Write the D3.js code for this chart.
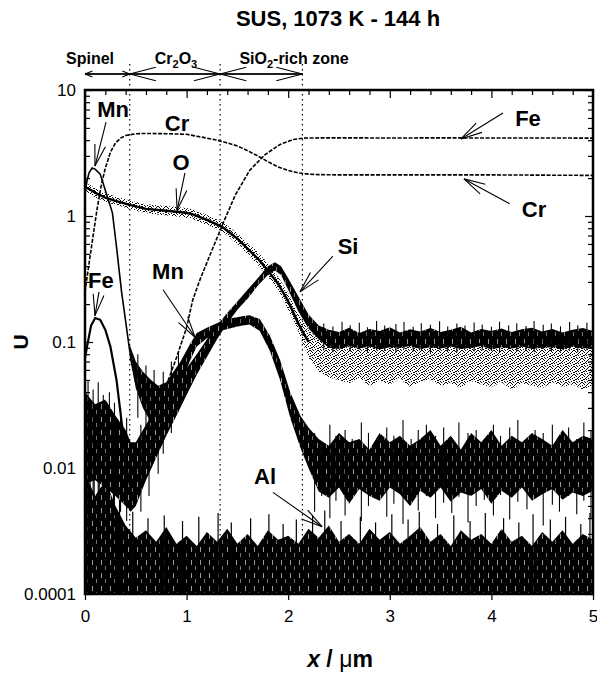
<!DOCTYPE html>
<html>
<head>
<meta charset="utf-8">
<script src="https://cdn.jsdelivr.net/npm/d3@7"></script>
<style>
  html, body { margin: 0; padding: 0; background: #fff; }
  svg { display: block; font-family: "Liberation Sans", Arial, Helvetica, sans-serif; }
</style>
</head>
<body>
<svg id="chart" width="597" height="674"></svg>
<script>
// ---------------- data ----------------
const xTickValues = [0, 1, 2, 3, 4, 5];
const xTickLabels = ["0", "1", "2", "3", "4", "5"];
const yTickValues = [10, 1, 0.1, 0.01, 0.001];
const yTickLabels = ["10", "1", "0.1", "0.01", "0.0001"];

// layer boundaries (µm)
const zoneStart = [0, 0.44, 1.33];
const zoneEnd   = [0.44, 1.33, 2.14];

// common sampling of the flat bulk region
const tailX = [2.3,2.4,2.5,2.6,2.7,2.8,2.9,3.0,3.1,3.2,3.3,3.4,3.5,3.6,3.7,3.8,3.9,4.0,4.1,4.2,4.3,4.4,4.5,4.6,4.7,4.8,4.9,5.0];

// Cr profile
const crX = [0,0.04,0.08,0.12,0.16,0.2,0.25,0.3,0.35,0.4,0.5,0.6,0.8,1.0,1.1,1.2,1.3,1.4,1.5,1.6,1.7,1.8,1.9,2.0,2.1,2.2,2.3,2.5,3,3.5,4,4.5,5];
const crV = [0.25,0.42,0.7,1.15,1.75,2.4,3.2,3.8,4.15,4.35,4.5,4.52,4.5,4.45,4.3,4.15,4.0,3.8,3.6,3.3,3.0,2.7,2.45,2.3,2.2,2.15,2.13,2.12,2.12,2.12,2.12,2.11,2.1];

// Fe profile
const feX = [0,0.02,0.06,0.1,0.15,0.2,0.25,0.31,0.37,0.42,0.45,0.5,0.6,0.7,0.8,0.9,1.0,1.06,1.13,1.23,1.36,1.48,1.62,1.77,1.92,2.05,2.15,2.3,2.6,3,3.5,4,4.5,5];
const feV = [0.075,0.092,0.135,0.155,0.15,0.125,0.092,0.05,0.02,0.009,0.0067,0.009,0.016,0.028,0.045,0.075,0.13,0.215,0.31,0.49,0.88,1.47,2.3,3.06,3.7,4.05,4.15,4.17,4.17,4.16,4.17,4.16,4.16,4.15];

// Mn: clean surface peak, then noisy band
const mnLineX = [0,0.02,0.04,0.07,0.1,0.15,0.2,0.27,0.31,0.36,0.44,0.5];
const mnLineV = [1.55,1.9,2.2,2.4,2.35,2.15,1.6,1.06,0.57,0.25,0.085,0.055];
const mnBandX = [0.44,0.5,0.57,0.65,0.72,0.8,0.87,0.94,1.03,1.1,1.2,1.33,1.45,1.55,1.62,1.72,1.82,1.92,2.02,2.12,2.2].concat(tailX);
const mnLo = [0.075,0.043,0.03,0.023,0.02,0.023,0.033,0.045,0.07,0.092,0.107,0.122,0.13,0.135,0.138,0.122,0.085,0.05,0.025,0.0145,0.01,
  0.0065,0.0058,0.007,0.0052,0.0068,0.006,0.0055,0.007,0.0062,0.005,0.0066,0.0058,0.007,0.0054,0.0064,0.006,0.0068,0.0052,0.0066,0.0058,0.007,0.0055,0.0062,0.0068,0.0056,0.0064,0.006,0.0066];
const mnHi = [0.095,0.07,0.058,0.05,0.045,0.048,0.058,0.07,0.095,0.118,0.13,0.145,0.155,0.16,0.163,0.152,0.112,0.072,0.04,0.026,0.021,
  0.017,0.015,0.019,0.016,0.017,0.014,0.019,0.016,0.018,0.015,0.017,0.02,0.015,0.018,0.014,0.019,0.016,0.02,0.015,0.018,0.016,0.019,0.017,0.015,0.02,0.016,0.018,0.017];
// Mn single-scan excursions
const mnSpikeX  = [0.52,0.6,0.68,0.77,0.85,0.92,2.26,2.33,2.41,2.47,2.56,2.63,2.72,2.79,2.88,2.97,3.04,3.13,3.21,3.28,3.36,3.45,3.53,3.61,3.68,3.77,3.85,3.93,4.02,4.09,4.18,4.26,4.35,4.43,4.51,4.6,4.67,4.76,4.84,4.91,4.98];
const mnSpikeLo = [0.025,0.018,0.014,0.013,0.019,0.028,
  0.0045,0.006,0.004,0.0055,0.0042,0.006,0.0038,0.005,0.0058,0.0041,0.0052,0.0036,0.0057,0.0046,0.006,0.004,0.0053,0.0044,0.0059,0.0037,0.005,0.0056,0.0042,0.0061,0.0039,0.0054,0.0047,0.0058,0.0035,0.0051,0.0045,0.006,0.0043,0.0055,0.004];
const mnSpikeHi = [0.08,0.065,0.06,0.058,0.07,0.085,
  0.019,0.016,0.022,0.018,0.02,0.017,0.023,0.019,0.016,0.021,0.018,0.024,0.017,0.02,0.022,0.018,0.021,0.016,0.023,0.019,0.02,0.017,0.022,0.018,0.021,0.024,0.017,0.02,0.019,0.022,0.018,0.021,0.017,0.023,0.02];

// Si noisy band
const siX = [0,0.1,0.2,0.3,0.4,0.45,0.5,0.6,0.7,0.8,0.9,1.0,1.1,1.2,1.3,1.4,1.5,1.6,1.7,1.8,1.87,1.93,2.0,2.1,2.2,2.3].concat(tailX.slice(1));
const siLo = [0.0075,0.008,0.007,0.006,0.005,0.0045,0.005,0.008,0.012,0.018,0.026,0.038,0.055,0.076,0.105,0.14,0.18,0.22,0.28,0.34,0.37,0.34,0.26,0.175,0.128,0.105,
  0.09,0.088,0.093,0.089,0.092,0.087,0.091,0.09,0.093,0.088,0.091,0.089,0.092,0.088,0.09,0.093,0.087,0.091,0.089,0.092,0.088,0.09,0.091,0.087,0.092,0.089,0.09];
const siHi = [0.04,0.032,0.035,0.026,0.02,0.016,0.016,0.022,0.03,0.038,0.05,0.062,0.08,0.105,0.135,0.17,0.21,0.26,0.32,0.4,0.43,0.4,0.32,0.23,0.165,0.135,
  0.125,0.12,0.13,0.118,0.127,0.122,0.131,0.119,0.126,0.121,0.129,0.12,0.125,0.132,0.119,0.127,0.122,0.128,0.12,0.126,0.13,0.121,0.127,0.119,0.125,0.129,0.122];
// Si single-scan excursions
const siSpikeX  = [0.03,0.08,0.13,0.18,0.24,0.29,0.35,0.41,0.55,0.63,0.72,
  2.35,2.44,2.53,2.61,2.7,2.78,2.87,2.95,3.06,3.14,3.23,3.31,3.4,3.49,3.57,3.66,3.74,3.83,3.91,4.0,4.08,4.17,4.25,4.34,4.42,4.51,4.59,4.68,4.77,4.85,4.94];
const siSpikeLo = [0.005,0.006,0.0045,0.0055,0.005,0.0042,0.0045,0.0038,0.0045,0.006,0.009,
  0.086,0.083,0.088,0.084,0.087,0.082,0.086,0.085,0.083,0.088,0.084,0.086,0.082,0.087,0.085,0.083,0.088,0.084,0.086,0.085,0.082,0.087,0.084,0.086,0.083,0.088,0.085,0.084,0.087,0.083,0.086];
const siSpikeHi = [0.05,0.042,0.048,0.038,0.04,0.033,0.03,0.025,0.022,0.03,0.04,
  0.14,0.133,0.145,0.136,0.142,0.131,0.147,0.135,0.139,0.144,0.132,0.141,0.137,0.146,0.133,0.14,0.135,0.143,0.138,0.132,0.145,0.136,0.141,0.134,0.147,0.137,0.14,0.133,0.144,0.136,0.142];

// O: scattered band with a dense line through the oxide
const oX = [0,0.05,0.1,0.2,0.3,0.45,0.6,0.8,0.95,1.05,1.2,1.35,1.5,1.6,1.7,1.8,1.9,2.0,2.1,2.2,2.3,2.4].concat(tailX.slice(2));
const oLo = [1.58,1.5,1.41,1.3,1.22,1.13,1.05,1.01,0.98,0.95,0.85,0.75,0.6,0.5,0.41,0.33,0.255,0.18,0.12,0.075,0.058,0.052,
  0.05,0.047,0.052,0.045,0.049,0.046,0.051,0.044,0.048,0.05,0.045,0.047,0.043,0.049,0.046,0.044,0.048,0.042,0.047,0.045,0.043,0.048,0.044,0.046,0.042,0.045];
const oHi = [1.84,1.76,1.66,1.52,1.43,1.32,1.24,1.2,1.17,1.14,1.02,0.9,0.73,0.61,0.52,0.42,0.33,0.245,0.165,0.125,0.105,0.1,
  0.1,0.097,0.1,0.095,0.099,0.096,0.1,0.094,0.098,0.096,0.1,0.095,0.097,0.094,0.099,0.095,0.097,0.093,0.098,0.096,0.094,0.097,0.095,0.093,0.096,0.094];
const oLineV = [1.7,1.62,1.53,1.4,1.32,1.22,1.14,1.1,1.07,1.04,0.93,0.82,0.66,0.55,0.46,0.37,0.29,0.21,0.14,0.1];

// Al: noise floor
const alX = [0,0.1,0.2,0.3,0.4,0.5,0.6,0.7,0.8,0.9,1.0,1.1,1.2,1.3,1.4,1.5,1.6,1.7,1.8,1.9,2.0,2.1,2.2,2.3,2.4,2.5,2.6,2.7,2.8,2.9,3.0,3.1,3.2,3.3,3.4,3.5,3.6,3.7,3.8,3.9,4.0,4.1,4.2,4.3,4.4,4.5,4.6,4.7,4.8,4.9,5.0];
const alHi = [0.009,0.006,0.008,0.005,0.0035,0.0028,0.0032,0.0026,0.0034,0.0025,0.0029,0.0024,0.0031,0.0026,0.0033,0.0025,0.003,0.0024,0.0032,0.0027,0.0029,0.0025,0.0033,0.0028,0.0035,0.0026,0.003,0.0025,0.0033,0.0027,0.0031,0.0025,0.0029,0.0034,0.0026,0.003,0.0024,0.0032,0.0027,0.003,0.0025,0.0033,0.0026,0.0029,0.0024,0.0031,0.0026,0.0032,0.0025,0.003,0.0027];
const alSpikeX = [0.02,0.05,0.09,0.14,0.19,0.23,0.28,0.34,0.47,0.62,0.78,0.96,1.12,1.31,1.44,1.63,1.81,1.95,2.08,2.24,2.36,2.52,2.71,2.86,3.02,3.18,3.29,3.47,3.63,3.79,3.94,4.12,4.27,4.41,4.58,4.73,4.88,4.97];
const alSpikeV = [0.012,0.009,0.011,0.008,0.01,0.007,0.0085,0.006,0.0045,0.004,0.0042,0.0038,0.0041,0.0044,0.0037,0.004,0.0043,0.0036,0.0039,0.0042,0.0046,0.0038,0.0041,0.0037,0.0043,0.0039,0.0045,0.0036,0.0042,0.0038,0.0044,0.004,0.0037,0.0043,0.0039,0.0041,0.0036,0.0044];

// element labels and their pointers (x in µm, value in U)
const annText = ["Mn", "Cr", "O", "Fe", "Mn", "Si", "Fe", "Cr", "Al"];
const annX    = [0.276, 0.906, 0.945, 0.157, 0.817, 2.589, 4.36, 4.42, 1.772];
const annV    = [6.94, 5.47, 2.64, 0.31, 0.36, 0.57, 5.99, 1.12, 0.0085];
const ptrFromX = [0.207, 0.984, 0.138, 0.768, 2.44, 4.114, 4.18, 1.85];
const ptrFromV = [5.57, 2.20, 0.25, 0.26, 0.48, 6.56, 1.25, 0.0064];
const ptrToX   = [0.098, 0.906, 0.098, 1.083, 2.116, 3.70, 3.73, 2.333];
const ptrToV   = [2.49, 1.11, 0.162, 0.109, 0.25, 4.09, 1.97, 0.00342];

// ---------------- layout ----------------
const M = { left: 85, right: 593, top: 90, bottom: 594 };
const x = d3.scaleLinear().domain([0, 5]).range([M.left, M.right]);
const y = d3.scaleLog().domain([0.001, 10]).range([M.bottom, M.top]);
const floorV = y.domain()[0];

const svg = d3.select("#chart");
const defs = svg.append("defs");
defs.append("clipPath").attr("id", "plotClip")
  .append("rect").attr("x", M.left).attr("y", M.top)
  .attr("width", M.right - M.left).attr("height", M.bottom - M.top);

// light streaks that break up the solid noise bands
const streaks = defs.append("pattern").attr("id", "streaks")
  .attr("patternUnits", "userSpaceOnUse").attr("width", 9).attr("height", 13);
streaks.append("rect").attr("x", 2).attr("y", 1).attr("width", 1).attr("height", 5).attr("fill", "#fff").attr("opacity", 0.6);
streaks.append("rect").attr("x", 6).attr("y", 7).attr("width", 1).attr("height", 4).attr("fill", "#fff").attr("opacity", 0.45);

// dotted texture for the scattered O signal
const speckle = defs.append("pattern").attr("id", "speckle")
  .attr("patternUnits", "userSpaceOnUse").attr("width", 8).attr("height", 8);
[[0,0],[3,0],[6,1],[1,2],[4,2],[7,3],[2,3],[0,5],[5,4],[3,5],[6,6],[1,6],[4,7],[7,7],[2,1],[5,6],[0,3],[6,4]].forEach(([a, b]) =>
  speckle.append("rect").attr("x", a).attr("y", b).attr("width", 1).attr("height", 1).attr("fill", "#000"));

const plot = svg.append("g").attr("clip-path", "url(#plotClip)");

const zip = (X, V) => X.map((v, i) => [v, V[i]]);
const line = d3.line().x(p => x(p[0])).y(p => y(p[1]));
const area = d3.area().x(p => x(p.x)).y0(p => y(p.lo)).y1(p => y(p.hi));

function band(X, Lo, Hi, fill, overlay) {
  const d = X.map((v, i) => ({ x: v, lo: Lo[i], hi: Hi[i] }));
  plot.append("path").attr("d", area(d)).attr("fill", fill);
  if (overlay) plot.append("path").attr("d", area(d)).attr("fill", overlay);
}
function spikes(X, Lo, Hi, w) {
  plot.append("g").selectAll("line").data(X).join("line")
    .attr("x1", d => x(d)).attr("x2", d => x(d))
    .attr("y1", (d, i) => y(Lo[i])).attr("y2", (d, i) => y(Hi[i]))
    .attr("stroke", "#000").attr("stroke-width", w);
}

// Al noise floor
band(alX, alX.map(() => floorV), alHi, "#000", "url(#streaks)");
spikes(alSpikeX, alSpikeX.map(() => floorV), alSpikeV, 1.2);

// noisy bands
band(mnBandX, mnLo, mnHi, "#000", "url(#streaks)");
spikes(mnSpikeX, mnSpikeLo, mnSpikeHi, 1.1);
band(siX, siLo, siHi, "#000", "url(#streaks)");
spikes(siSpikeX, siSpikeLo, siSpikeHi, 1.1);
band(oX, oLo, oHi, "url(#speckle)");

// O line through the oxide
plot.append("path").attr("d", line(zip(oX.slice(0, oLineV.length), oLineV)))
  .attr("fill", "none").attr("stroke", "#000").attr("stroke-width", 2.4);

// Mn surface peak
plot.append("path").attr("d", line(zip(mnLineX, mnLineV)))
  .attr("fill", "none").attr("stroke", "#000").attr("stroke-width", 1.6);

// Fe: surface hump solid, rising part and bulk dashed
const fePts = zip(feX, feV);
plot.append("path").attr("d", line(fePts.filter(p => p[0] <= 0.45)))
  .attr("fill", "none").attr("stroke", "#000").attr("stroke-width", 2.2);
plot.append("path").attr("d", line(fePts.filter(p => p[0] >= 0.45)))
  .attr("fill", "none").attr("stroke", "#000").attr("stroke-width", 1.6)
  .attr("stroke-dasharray", "4,1.5");

// Cr
plot.append("path").attr("d", line(zip(crX, crV)))
  .attr("fill", "none").attr("stroke", "#000").attr("stroke-width", 1.6)
  .attr("stroke-dasharray", "4,1.5");

// layer boundaries
svg.append("g").selectAll("line").data(zoneEnd).join("line")
  .attr("x1", d => x(d)).attr("x2", d => x(d))
  .attr("y1", 64).attr("y2", M.bottom)
  .attr("stroke", "#000").attr("stroke-width", 1.2)
  .attr("stroke-dasharray", "1.5,3.5");

// ---------------- axes ----------------
const isDecade = v => Math.abs(Math.log10(v) - Math.round(Math.log10(v))) < 1e-6;
const yMinor = y.ticks().filter(v => !isDecade(v));
const xMinor = d3.range(0, 5.0001, 0.2).filter(v => Math.abs(v - Math.round(v)) > 1e-6);

function clean(g) { g.select(".domain").remove(); }

svg.append("g").attr("transform", `translate(${M.left},0)`)
  .call(d3.axisLeft(y).tickValues(yTickValues).tickSize(-8).tickPadding(9)
    .tickFormat((d, i) => yTickLabels[i]))
  .call(clean)
  .call(g => g.selectAll("text").attr("font-size", 17).attr("font-family", "Liberation Sans, Arial, sans-serif"));
svg.append("g").attr("transform", `translate(${M.left},0)`)
  .call(d3.axisLeft(y).tickValues(yMinor).tickSize(-5).tickFormat(""))
  .call(clean);
svg.append("g").attr("transform", `translate(${M.right},0)`)
  .call(d3.axisRight(y).tickValues(yTickValues).tickSize(-8).tickFormat(""))
  .call(clean);
svg.append("g").attr("transform", `translate(${M.right},0)`)
  .call(d3.axisRight(y).tickValues(yMinor).tickSize(-5).tickFormat(""))
  .call(clean);

svg.append("g").attr("transform", `translate(0,${M.bottom})`)
  .call(d3.axisBottom(x).tickValues(xTickValues).tickSize(6).tickPadding(10)
    .tickFormat((d, i) => xTickLabels[i]))
  .call(clean)
  .call(g => g.selectAll("text").attr("font-size", 17).attr("font-family", "Liberation Sans, Arial, sans-serif"));
svg.append("g").attr("transform", `translate(0,${M.top})`)
  .call(d3.axisTop(x).tickValues(xTickValues).tickSize(-8).tickFormat(""))
  .call(clean);
svg.append("g").attr("transform", `translate(0,${M.top})`)
  .call(d3.axisTop(x).tickValues(xMinor).tickSize(-5).tickFormat(""))
  .call(clean);
svg.selectAll(".tick line").attr("stroke", "#000").attr("stroke-width", 1.2);

// frame
svg.append("rect").attr("x", M.left).attr("y", M.top)
  .attr("width", M.right - M.left).attr("height", M.bottom - M.top)
  .attr("fill", "none").attr("stroke", "#000").attr("stroke-width", 2.5);

// ---------------- annotations ----------------
const ann = svg.append("g");
ann.selectAll("text").data(annText).join("text")
  .attr("x", (d, i) => x(annX[i])).attr("y", (d, i) => y(annV[i]))
  .attr("text-anchor", "middle").attr("dominant-baseline", "central")
  .attr("font-size", 22).attr("font-weight", "bold").text(d => d);

function pointer(g, x1, y1, x2, y2, len, spread) {
  g.append("line").attr("x1", x1).attr("y1", y1).attr("x2", x2).attr("y2", y2);
  const a = Math.atan2(y1 - y2, x1 - x2);
  [-spread, spread].forEach(s => {
    g.append("line").attr("x1", x2).attr("y1", y2)
      .attr("x2", x2 + len * Math.cos(a + s)).attr("y2", y2 + len * Math.sin(a + s));
  });
}
const ptrs = ann.append("g").attr("stroke", "#000").attr("stroke-width", 1.1);
ptrFromX.forEach((v, i) => pointer(ptrs, x(v), y(ptrFromV[i]), x(ptrToX[i]), y(ptrToV[i]), 22, 0.25));

// layer arrows above the frame
const zoneG = svg.append("g").attr("stroke", "#000").attr("stroke-width", 1.1);
const headLen = [8, 27, 27], headSpread = [0.38, 0.25, 0.25];
zoneStart.forEach((s, i) => {
  const xa = x(s), xb = x(zoneEnd[i]), yy = 74;
  zoneG.append("line").attr("x1", xa).attr("y1", yy).attr("x2", xb).attr("y2", yy);
  pointer(zoneG, xb, yy, xa, yy, headLen[i], headSpread[i]);
  pointer(zoneG, xa, yy, xb, yy, headLen[i], headSpread[i]);
});

const zl = svg.append("g").attr("font-size", 16).attr("font-weight", "bold").attr("text-anchor", "middle");
zl.append("text").attr("x", 90).attr("y", 64).text("Spinel");
const c2 = zl.append("text").attr("x", 176).attr("y", 64);
c2.append("tspan").text("Cr");
c2.append("tspan").attr("font-size", 11).attr("dy", 4).text("2");
c2.append("tspan").attr("dy", -4).text("O");
c2.append("tspan").attr("font-size", 11).attr("dy", 4).text("3");
const s2 = zl.append("text").attr("x", 294).attr("y", 64);
s2.append("tspan").text("SiO");
s2.append("tspan").attr("font-size", 11).attr("dy", 4).text("2");
s2.append("tspan").attr("dy", -4).text("-rich zone");

// titles
svg.append("text").attr("x", 338).attr("y", 26).attr("text-anchor", "middle")
  .attr("font-size", 22).attr("font-weight", "bold").text("SUS, 1073 K - 144 h");

svg.append("text").attr("transform", `translate(28,${(M.top + M.bottom) / 2}) rotate(-90)`)
  .attr("text-anchor", "middle").attr("font-size", 21).attr("font-weight", "bold").text("U");

const xl = svg.append("text").attr("x", 340).attr("y", 667).attr("text-anchor", "middle").attr("font-size", 23);
xl.append("tspan").attr("font-weight", "bold").attr("font-style", "italic").text("x");
xl.append("tspan").attr("font-weight", "bold").text(" / ");
xl.append("tspan").text("μ");
xl.append("tspan").attr("font-weight", "bold").text("m");
</script>
</body>
</html>
